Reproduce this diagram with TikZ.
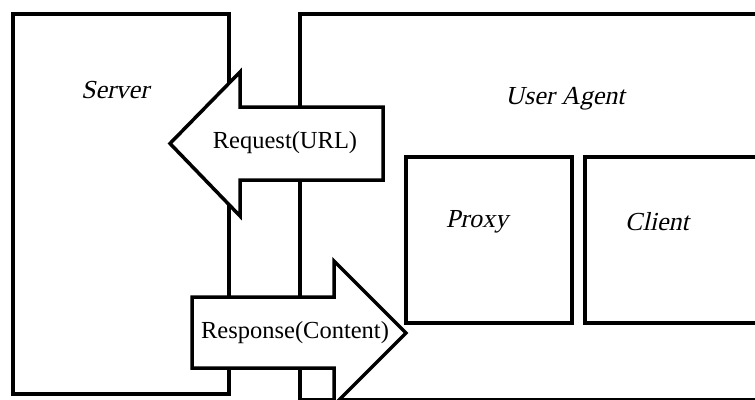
\documentclass[tikz,border=0pt]{standalone}
\usepackage{fontspec}
\setmainfont{Liberation Serif}
\newfontfamily\slantserif{Liberation Serif}[FakeSlant=0.22]
\begin{document}
\begin{tikzpicture}[x=1pt,y=-1pt,
  frame/.style={draw=black,line width=3.5pt,fill=white},
  blockarrow/.style={draw=black,line width=3.5pt,fill=white,line join=miter},
  italabel/.style={font=\slantserif\fontsize{26}{30}\selectfont,inner sep=0pt},
  arrowlabel/.style={font=\fontsize{24.5}{28}\selectfont,inner sep=0pt}]
  \useasboundingbox (0,0) rectangle (755,399);
  \begin{scope}
    \clip (0,0) rectangle (755,399);
    % the two main frames
    \draw[frame] (13,14) rectangle (229,394);
    \draw[frame] (300,14) rectangle (770,400);
    % the two inner frames of the user agent
    \draw[frame] (406,157) rectangle (572,323);
    \draw[frame] (585,157) rectangle (775,323);
    % request arrow, pointing left
    \draw[blockarrow] (383,107) -- (240,107) -- (240,72) -- (170,143.5)
      -- (240,216) -- (240,180) -- (383,180) -- cycle;
    % response arrow, pointing right
    \draw[blockarrow] (192,297) -- (334,297) -- (334,261) -- (406,333)
      -- (334,405) -- (334,368) -- (192,368) -- cycle;
  \end{scope}
  \node[italabel] (server) at (115,90) {Server};
  \node[italabel] (agent) at (565,99) {User Agent};
  \node[italabel] (proxy) at (477,222) {Proxy};
  \node[italabel] (client) at (657,222) {Client};
  \node[arrowlabel] (req) at (285,143) {Request(URL)};
  \node[arrowlabel] (resp) at (295,333) {Response(Content)};
\end{tikzpicture}
\end{document}
